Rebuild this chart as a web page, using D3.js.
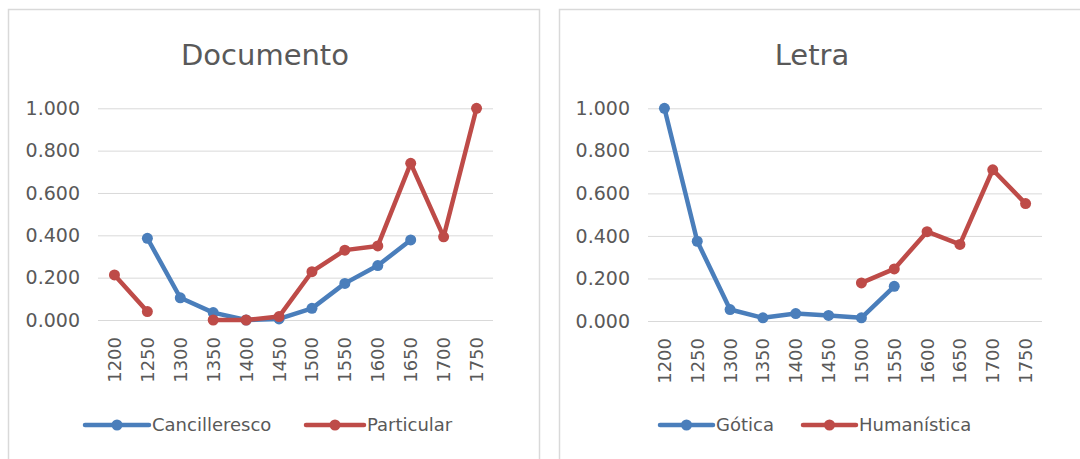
<!DOCTYPE html>
<html>
<head>
<meta charset="utf-8">
<script src="https://cdn.jsdelivr.net/npm/d3@7/dist/d3.min.js"></script>
<style>
html,body{margin:0;padding:0;background:#fff;}
svg{display:block;font-family:"DejaVu Sans",sans-serif;}
</style>
</head>
<body>
<svg id="chart" width="1080" height="459"></svg>
<script>
const categories = ["1200","1250","1300","1350","1400","1450","1500","1550","1600","1650","1700","1750"];
const yTicks = [0, 0.2, 0.4, 0.6, 0.8, 1.0];

const docTitle = "Documento";
const cancilleresco = [null, 0.386, 0.105, 0.035, 0.0, 0.005, 0.055, 0.173, 0.257, 0.378, null, null];
const particular    = [0.213, 0.040, null, 0.0, 0.0, 0.016, 0.228, 0.330, 0.350, 0.740, 0.393, 1.0];

const letraTitle = "Letra";
const gotica      = [1.0, 0.375, 0.054, 0.015, 0.035, 0.026, 0.015, 0.163, null, null, null, null];
const humanistica = [null, null, null, null, null, null, 0.179, 0.245, 0.420, 0.360, 0.711, 0.552];

const BLUE = "#4a7ebb", RED = "#be4b48", TXT = "#595959", GRID = "#d9d9d9";
const fmt = d3.format(".3f");

const svg = d3.select("#chart");

function panel(cfg) {
  const g = svg.append("g");
  g.append("rect").attr("x", cfg.box[0]).attr("y", cfg.box[1])
    .attr("width", cfg.box[2]).attr("height", cfg.box[3])
    .attr("fill", "#fff").attr("stroke", GRID).attr("stroke-width", 1.5);

  g.append("text").attr("x", cfg.titleX).attr("y", 65)
    .attr("text-anchor", "middle").attr("fill", TXT)
    .style("font-size", "29px").text(cfg.title);

  const x = d3.scaleBand().domain(categories).range(cfg.xr).padding(0);
  const y = d3.scaleLinear().domain([0, 1]).range(cfg.yr);

  // gridlines
  const ya = d3.axisLeft(y).tickValues(yTicks).tickSize(-(cfg.xr[1] - cfg.xr[0]))
    .tickFormat(fmt).tickPadding(18);
  const yg = g.append("g").attr("transform", `translate(${cfg.xr[0]},0)`).call(ya);
  yg.select(".domain").remove();
  yg.selectAll("line").attr("stroke", GRID).attr("stroke-width", 1);
  yg.selectAll("text").attr("fill", TXT).style("font-size", "19px")
    .style("font-family", '"DejaVu Sans",sans-serif');

  // x labels
  const xa = d3.axisBottom(x).tickSize(0).tickPadding(0);
  const xg = g.append("g").attr("transform", `translate(0,${cfg.yr[0]})`).call(xa);
  xg.select(".domain").remove();
  xg.selectAll("text").attr("fill", TXT).style("font-size", "18px")
    .style("font-family", '"DejaVu Sans",sans-serif')
    .attr("transform", "rotate(-90)")
    .attr("text-anchor", "end")
    .attr("x", -17).attr("y", 0).attr("dy", "0.36em");

  const line = d3.line()
    .defined(d => d.v !== null)
    .x(d => x(d.c) + x.bandwidth() / 2)
    .y(d => y(d.v));

  cfg.series.forEach(s => {
    const pts = categories.map((c, i) => ({ c, v: s.values[i] }));
    g.append("path").datum(pts).attr("d", line)
      .attr("fill", "none").attr("stroke", s.color).attr("stroke-width", 4.5)
      .attr("stroke-linejoin", "round").attr("stroke-linecap", "round");
    g.selectAll(null).data(pts.filter(d => d.v !== null)).enter().append("circle")
      .attr("cx", d => x(d.c) + x.bandwidth() / 2).attr("cy", d => y(d.v))
      .attr("r", 5.5).attr("fill", s.color);
  });

  // legend
  cfg.series.forEach(s => {
    const L = s.legend;
    g.append("line").attr("x1", L[0]).attr("x2", L[1]).attr("y1", 425).attr("y2", 425)
      .attr("stroke", s.color).attr("stroke-width", 4.5).attr("stroke-linecap", "round");
    g.append("circle").attr("cx", (L[0] + L[1]) / 2).attr("cy", 425).attr("r", 5.5).attr("fill", s.color);
    g.append("text").attr("x", L[1] + 3).attr("y", 425).attr("dy", "0.36em")
      .attr("fill", TXT).style("font-size", "18px").text(s.name);
  });
}

panel({
  box: [8.5, 9.5, 531, 470], title: docTitle, titleX: 265,
  xr: [98, 493], yr: [320, 108.3],
  series: [
    { name: "Cancilleresco", values: cancilleresco, color: BLUE, legend: [85, 149] },
    { name: "Particular", values: particular, color: RED, legend: [306, 364] }
  ]
});
panel({
  box: [559.5, 9.5, 560, 470], title: letraTitle, titleX: 812,
  xr: [648, 1042], yr: [321, 108.3],
  series: [
    { name: "Gótica", values: gotica, color: BLUE, legend: [660, 713] },
    { name: "Humanística", values: humanistica, color: RED, legend: [803, 856] }
  ]
});
</script>
</body>
</html>
